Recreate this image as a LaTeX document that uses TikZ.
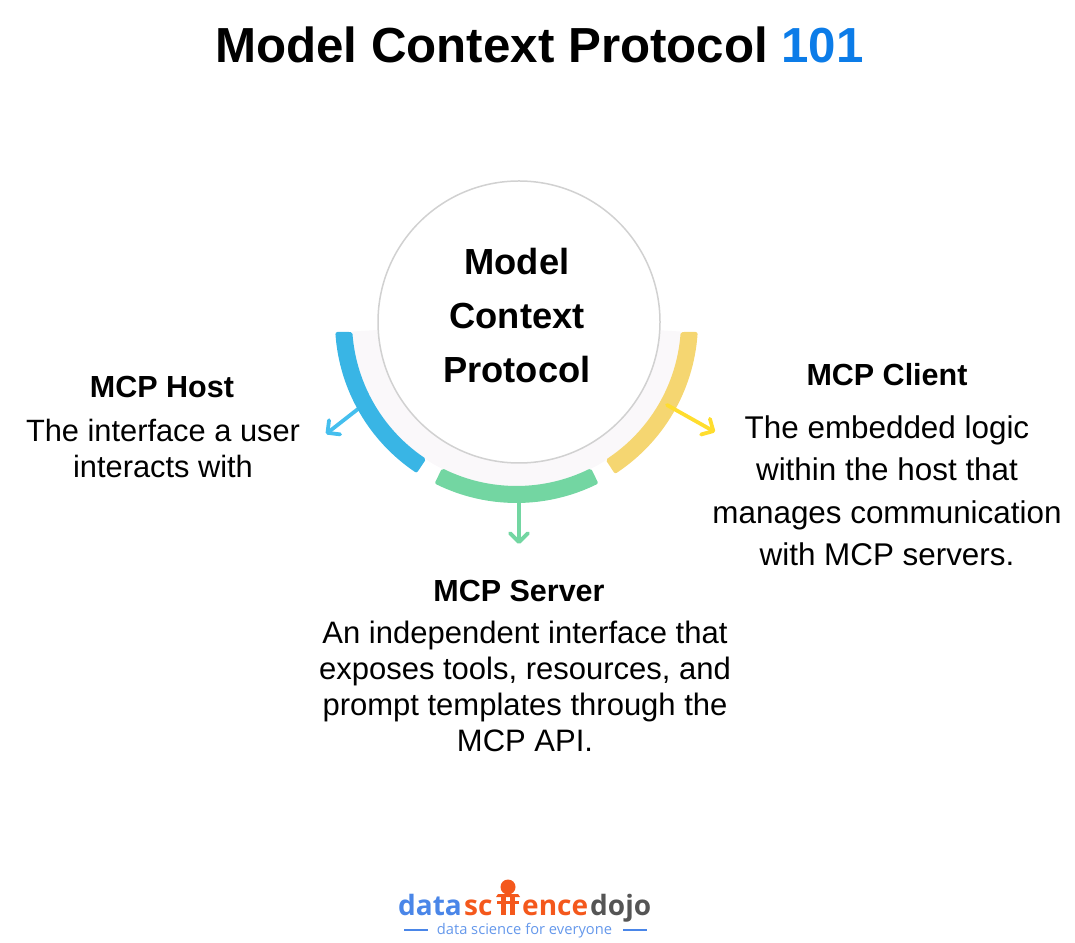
\documentclass[tikz,border=0pt]{standalone}
\usepackage{fontspec}
\setmainfont{Liberation Sans}
\newfontfamily\logofont{Open Sans}
\usetikzlibrary{arrows.meta}
\definecolor{hostblue}{HTML}{39B5E5}
\definecolor{hostarrow}{HTML}{45BFEE}
\definecolor{servergreen}{HTML}{73D6A2}
\definecolor{clientyellow}{HTML}{F5D671}
\definecolor{clientarrow}{HTML}{FFDD2E}
\definecolor{ringgrey}{HTML}{FAF8FA}
\definecolor{titleblue}{HTML}{0C7CE8}
\definecolor{logoblue}{HTML}{4A86E8}
\definecolor{logoorange}{HTML}{F4581C}
\definecolor{logogrey}{HTML}{555555}
\tikzset{
  band/.style={line width=4pt, line join=round},
  pointer/.style={line width=3.8pt, line cap=round, -{Straight Barb[length=9pt,width=18pt,round]}},
  heading/.style={font=\fontsize{30.5}{35}\selectfont\bfseries, inner sep=0pt},
  hubtext/.style={font=\fontsize{36.3}{54}\selectfont\bfseries, align=center, inner sep=0pt},
  logotext/.style={font=\logofont\fontsize{28}{28}\selectfont\bfseries, anchor=base west, inner sep=0pt},
}
\newcommand{\bandpart}[5]{%
  \filldraw[band, draw=#5, fill=#5] (516.5,620.5) ++(#1:179.5) arc (#1:#2:179.5)
    -- ([shift={(#3:166.5)}]516.5,620.5) arc (#3:#4:166.5) -- cycle;}
\begin{document}
\begin{tikzpicture}[x=1pt, y=1pt]
    \useasboundingbox (0,0) rectangle (1075,942);
    % title
    \node[font=\fontsize{49.25}{60}\selectfont\bfseries, inner sep=0pt] (title) at (539.5,897) {Model Context Protocol \textcolor{titleblue}{101}};
    % pale ring behind the hub
    \fill[ringgrey] (516.5,620.5) ++(183.5:165) arc (183.5:356.5:165) -- ++(356.5:-30) arc (356.5:183.5:135) -- cycle;
    % arrows under and over the bands
    \coordinate (hostfrom) at (358,533);
    \coordinate (hostto) at (326,508);
    \coordinate (serverfrom) at (519,440);
    \coordinate (serverto) at (519,398);
    \coordinate (clientfrom) at (667,537);
    \coordinate (clientto) at (715,510);
    \draw[pointer, hostarrow] (hostfrom) -- (hostto);
    \draw[pointer, servergreen] (serverfrom) -- (serverto);
    % the three bands
    \bandpart{183.99}{236}{236}{184.31}{hostblue}
    \bandpart{243.8}{296.2}{296.2}{243.8}{servergreen}
    \bandpart{303.5}{356.01}{355.69}{303.5}{clientyellow}
    \draw[pointer, clientarrow] (clientfrom) -- (clientto);
    % hub
    \node[circle, draw=black!18, fill=white, line width=1.5pt, minimum size=282pt, inner sep=0pt] (hubcircle) at (519,620) {};
    \node[hubtext] (hub) at (517,626) {Model\\Context\\Protocol};
    % the three captions
    \node[heading] (hosthead) at (162,555) {MCP Host};
    \node[font=\fontsize{30.8}{36}\selectfont, align=center, inner sep=0pt] (hosttext) at (163,494) {The interface a user\\interacts with};
    \node[heading] (clienthead) at (887,567) {MCP Client};
    \node[font=\fontsize{31.4}{42.5}\selectfont, align=center, inner sep=0pt] (clienttext) at (887,451) {The embedded logic\\within the host that\\manages communication\\with MCP servers.};
    \node[heading] (serverhead) at (519,351) {MCP Server};
    \node[font=\fontsize{31}{36}\selectfont, align=center, inner sep=0pt] (servertext) at (525,256) {An independent interface that\\exposes tools, resources, and\\prompt templates through the\\MCP API.};
    % logo
    \node[logotext, text=logoblue] (logodata) at (398,27) {data};
    \node[logotext, text=logoorange] (logosc) at (464,27) {sc};
    \node[logotext, text=logoorange] (logoence) at (522,27) {ence};
    \node[logotext, text=logogrey] (logodojo) at (590,27) {dojo};
    \node[circle, fill=logoorange, minimum size=15pt, inner sep=0pt] (logohead) at (508,55) {};
    \fill[logoorange] (498,48) -- (518,48) -- (520,45) -- (496,45) -- cycle;
    \fill[logoorange] (497,41) rectangle (519,38.5);
    \fill[logoorange] (501,45) rectangle (506,27);
    \fill[logoorange] (510,45) rectangle (515,27);
    \node[font=\logofont\fontsize{14.7}{16}\selectfont, text=logoblue!85, inner sep=0pt] (logotag) at (524.5,11) {data science for everyone};
    \coordinate (ruleleftA) at (404,12);
    \coordinate (ruleleftB) at (428,12);
    \coordinate (rulerightA) at (623,12);
    \coordinate (rulerightB) at (647,12);
    \draw[logoblue, line width=1.5pt] (ruleleftA) -- (ruleleftB);
    \draw[logoblue, line width=1.5pt] (rulerightA) -- (rulerightB);
\end{tikzpicture}
\end{document}
